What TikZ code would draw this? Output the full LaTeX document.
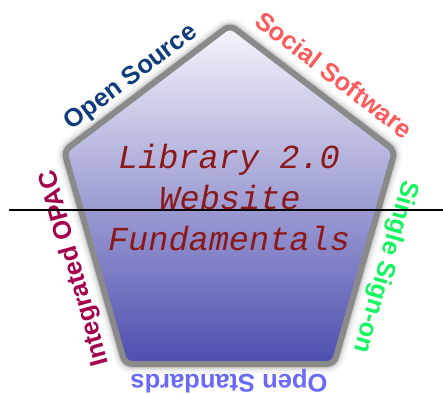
\documentclass[tikz,border=0pt]{standalone}
\usepackage{fontspec}
\setmainfont{Liberation Sans}
\newfontfamily\codefont{Liberation Mono}
\definecolor{osblue}{RGB}{15,60,125}
\definecolor{socred}{RGB}{255,90,90}
\definecolor{ssogreen}{RGB}{20,245,95}
\definecolor{stdblue}{RGB}{105,105,250}
\definecolor{opacred}{RGB}{165,0,75}
\definecolor{titlered}{RGB}{140,25,25}
\definecolor{rimgray}{RGB}{138,138,138}
\definecolor{topfill}{RGB}{246,245,252}
\definecolor{botfill}{RGB}{78,78,175}
\tikzset{
  edgelabel/.style={inner sep=0pt, font=\fontsize{25.5}{30}\selectfont\bfseries,
    text height=0.72em, text depth=0pt, anchor=center},
  titleline/.style={inner sep=0pt, anchor=base, text=titlered,
    font=\fontsize{33.6}{41}\selectfont\codefont\itshape},
  rim/.style={draw=rimgray, line width=6pt, rounded corners=7pt, line join=round},
  halo/.style={draw=black, rounded corners=7pt, line join=round},
}
\begin{document}
\begin{tikzpicture}[x=1pt,y=-1pt]
\useasboundingbox (0,0) rectangle (443,393);
% pentagon corners
\coordinate (T)  at (230,25);
\coordinate (UR) at (395,151);
\coordinate (BR) at (334,364);
\coordinate (BL) at (125,364);
\coordinate (UL) at (64,151);
% soft drop shadow around the rim
\draw[halo, line width=18pt, opacity=0.04, shift={(2,3)}] (T) -- (UR) -- (BR) -- (BL) -- (UL) -- cycle;
\draw[halo, line width=13pt, opacity=0.06, shift={(2,3)}] (T) -- (UR) -- (BR) -- (BL) -- (UL) -- cycle;
\draw[halo, line width=9pt, opacity=0.10, shift={(1,2)}] (T) -- (UR) -- (BR) -- (BL) -- (UL) -- cycle;
% gradient body
\shade[top color=topfill, bottom color=botfill, rounded corners=7pt]
  (T) -- (UR) -- (BR) -- (BL) -- (UL) -- cycle;
% grey rim
\draw[rim] (T) -- (UR) -- (BR) -- (BL) -- (UL) -- cycle;
% title
\node[titleline] (t1) at (229,168) {Library 2.0};
\node[titleline] (t2) at (230,209) {Website};
\node[titleline] (t3) at (229,250) {Fundamentals};
% edge labels
\node[edgelabel, text=osblue, rotate=37] (os) at (133,80) {Open Source};
\node[edgelabel, text=socred, rotate=-37.5] (soc) at (331,79) {Social Software};
\node[edgelabel, text=ssogreen, rotate=-106] (sso) at (382,266) {Single Sign-on};
\node[edgelabel, text=stdblue, rotate=180] (std) at (229,378) {Open Standards};
\node[edgelabel, text=opacred, rotate=105.6] (opac) at (78,267) {Integrated OPAC};
% horizontal rule
\coordinate (ruleL) at (9,210);
\coordinate (ruleR) at (443,210);
\draw[line width=1.3pt] (ruleL) -- (ruleR);
\end{tikzpicture}
\end{document}
